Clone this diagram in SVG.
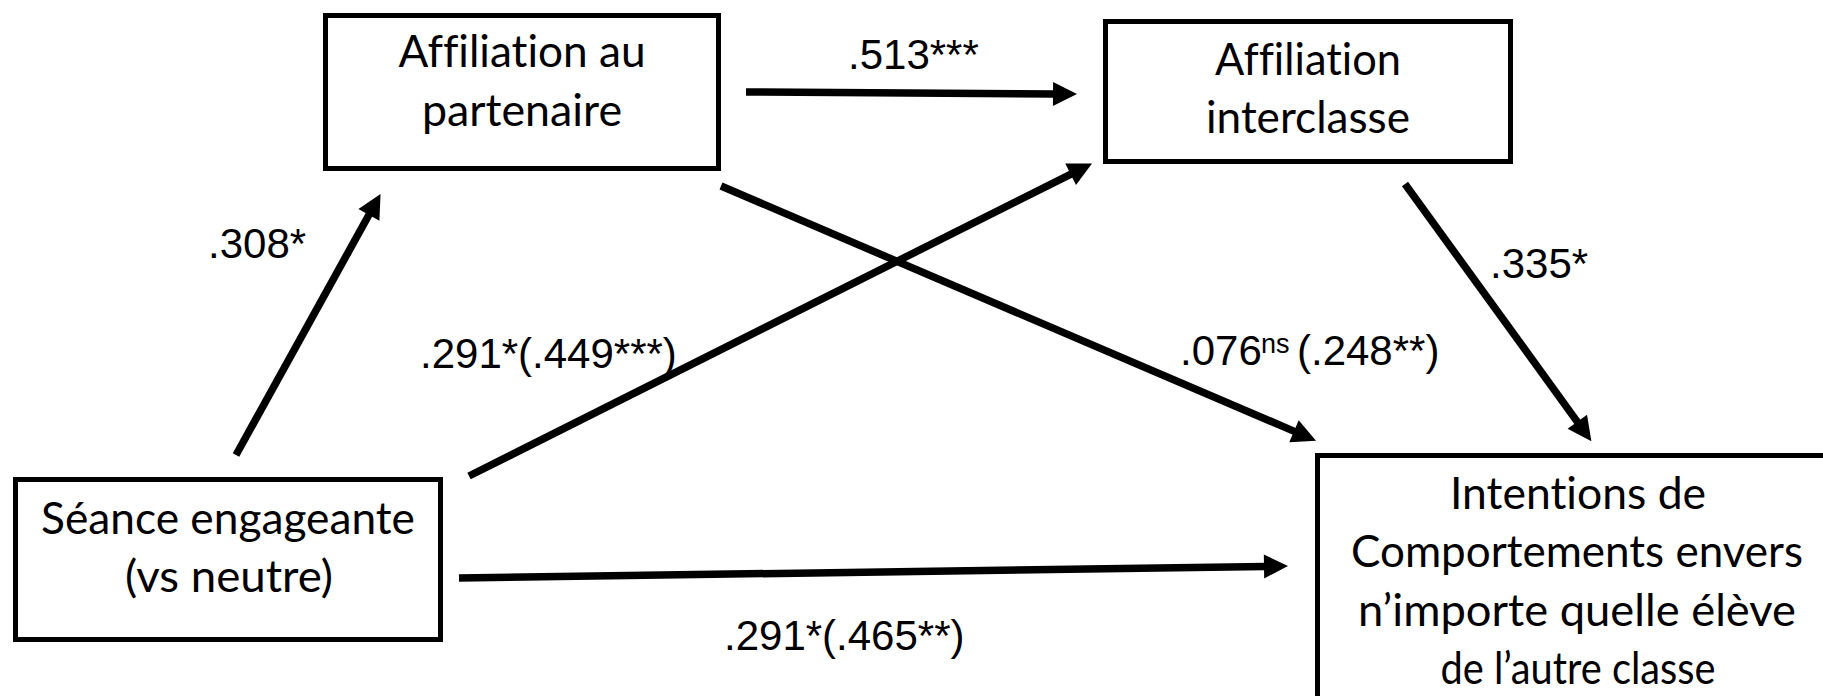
<svg xmlns="http://www.w3.org/2000/svg" width="1823" height="696" viewBox="0 0 1823 696">
<style>
.box{fill:#fff;stroke:#000;stroke-width:5}
.nt{font-family:"Lato","Open Sans","Liberation Sans",sans-serif;font-size:45px;fill:#000;text-anchor:middle;font-variant-ligatures:none}
.lbl{font-family:"Liberation Sans",Arial,sans-serif;font-size:42px;fill:#000}
.sup{font-family:"Liberation Sans",Arial,sans-serif;font-size:27px;fill:#000}
.edge{stroke:#000;stroke-width:7.5;fill:none;marker-end:url(#ah)}
</style>
<defs>
<marker id="ah" markerUnits="userSpaceOnUse" markerWidth="26" markerHeight="26" refX="1" refY="12" orient="auto" overflow="visible">
<path d="M0,0 L24,12 L0,24 Z" fill="#000"/>
</marker>
</defs>
<rect width="1823" height="696" fill="#fff"/>
<g id="connectors">
<line class="edge" x1="236" y1="455" x2="369.4" y2="214"/>
<line class="edge" x1="746" y1="92" x2="1054" y2="93.9"/>
<line class="edge" x1="469" y1="476" x2="1071.5" y2="173.8"/>
<line class="edge" x1="721" y1="186" x2="1294.9" y2="431.6"/>
<line class="edge" x1="1405" y1="184" x2="1577.9" y2="422.6"/>
<line class="edge" x1="459" y1="578" x2="1265" y2="566.4"/>
</g>
<g id="node-partenaire">
<rect class="box" x="325.5" y="15.5" width="393" height="153"/>
<text class="nt" x="522" y="67" textLength="247" lengthAdjust="spacingAndGlyphs">Affiliation au</text>
<text class="nt" x="522" y="126" textLength="200" lengthAdjust="spacingAndGlyphs">partenaire</text>
</g>
<g id="node-interclasse">
<rect class="box" x="1105.5" y="21.5" width="405" height="140"/>
<text class="nt" x="1308" y="75" textLength="186" lengthAdjust="spacingAndGlyphs">Affiliation</text>
<text class="nt" x="1308" y="133" textLength="204" lengthAdjust="spacingAndGlyphs">interclasse</text>
</g>
<g id="node-seance">
<rect class="box" x="15.5" y="479.5" width="425" height="160"/>
<text class="nt" x="228" y="534" textLength="374" lengthAdjust="spacingAndGlyphs">Séance engageante</text>
<text class="nt" x="229" y="592" textLength="208" lengthAdjust="spacingAndGlyphs">(vs neutre)</text>
</g>
<g id="node-intentions">
<rect class="box" x="1317.5" y="455.5" width="600" height="400"/>
<text class="nt" x="1578" y="509" textLength="256" lengthAdjust="spacingAndGlyphs">Intentions de</text>
<text class="nt" x="1577" y="567" textLength="452" lengthAdjust="spacingAndGlyphs">Comportements envers</text>
<text class="nt" x="1577" y="626" textLength="438" lengthAdjust="spacingAndGlyphs">n’importe quelle élève</text>
<text class="nt" x="1578" y="684" textLength="275" lengthAdjust="spacingAndGlyphs">de l’autre classe</text>
</g>
<g id="labels">
<text class="lbl" x="208" y="258">.308*</text>
<text class="lbl" x="848" y="69">.513***</text>
<text class="lbl" x="420" y="368">.291*(.449***)</text>
<text class="lbl" x="1180" y="365">.076</text>
<text class="sup" x="1261" y="353">ns</text>
<text class="lbl" x="1297" y="365">(.248**)</text>
<text class="lbl" x="1490" y="278">.335*</text>
<text class="lbl" x="724" y="650">.291*(.465**)</text>
</g>
</svg>
